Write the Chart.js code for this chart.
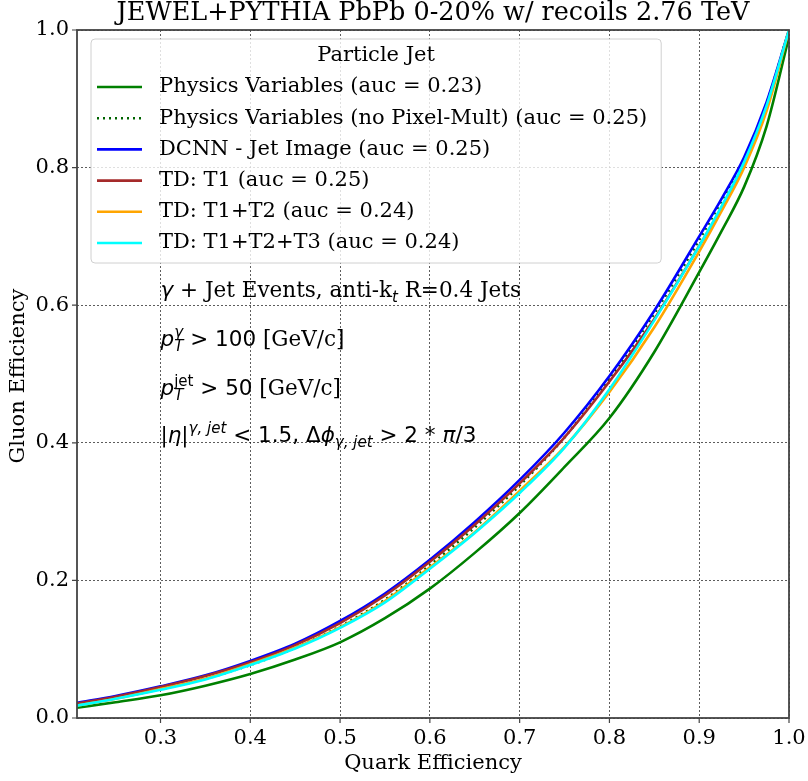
<!DOCTYPE html>
<html>
<head>
<meta charset="utf-8">
<script src="https://cdn.jsdelivr.net/npm/chart.js@4"></script>
<style>
  body { margin: 0; background: #fff; }
  #wrap { width: 808px; height: 781px; }
</style>
</head>
<body>
<div id="wrap"><canvas id="chart" width="808" height="781"></canvas></div>
<script>
// quark efficiency sample points shared by all curves
const quarkEff = [0.207, 0.25, 0.3, 0.35, 0.4, 0.45, 0.5, 0.55, 0.6, 0.65, 0.7, 0.75, 0.8, 0.85, 0.9, 0.925, 0.95, 0.975, 1.0];

// gluon efficiency per model
const physVars    = [0.015, 0.023, 0.033, 0.047, 0.064, 0.085, 0.110, 0.145, 0.188, 0.240, 0.298, 0.365, 0.436, 0.532, 0.648, 0.708, 0.772, 0.860, 0.99];
const physNoPixel = [0.019, 0.029, 0.042, 0.057, 0.077, 0.102, 0.133, 0.172, 0.222, 0.277, 0.338, 0.408, 0.493, 0.588, 0.695, 0.752, 0.812, 0.893, 1.0];
const dcnn        = [0.022, 0.032, 0.046, 0.062, 0.083, 0.108, 0.141, 0.181, 0.230, 0.285, 0.346, 0.415, 0.497, 0.592, 0.700, 0.755, 0.815, 0.895, 1.0];
const tdT1        = [0.021, 0.031, 0.045, 0.061, 0.081, 0.106, 0.138, 0.178, 0.227, 0.281, 0.341, 0.408, 0.489, 0.580, 0.686, 0.742, 0.805, 0.888, 1.0];
const tdT12       = [0.018, 0.028, 0.042, 0.057, 0.078, 0.102, 0.132, 0.170, 0.219, 0.270, 0.330, 0.394, 0.474, 0.568, 0.678, 0.737, 0.800, 0.882, 1.0];
const tdT123      = [0.018, 0.028, 0.041, 0.056, 0.077, 0.101, 0.131, 0.168, 0.217, 0.269, 0.327, 0.393, 0.478, 0.578, 0.686, 0.744, 0.808, 0.890, 1.0];

const labels = [
  'Physics Variables (auc = 0.23)',
  'Physics Variables (no Pixel-Mult) (auc = 0.25)',
  'DCNN - Jet Image (auc = 0.25)',
  'TD: T1 (auc = 0.25)',
  'TD: T1+T2 (auc = 0.24)',
  'TD: T1+T2+T3 (auc = 0.24)'
];
const colors = ['#008000', '#006400', '#0000ff', '#a52a2a', '#ffa500', '#00ffff'];
const dashes = [[], [2, 4], [], [], [], []];

const xTicks = [0.3, 0.4, 0.5, 0.6, 0.7, 0.8, 0.9, 1.0];
const yTicks = [0.0, 0.2, 0.4, 0.6, 0.8, 1.0];

const title = 'JEWEL+PYTHIA PbPb 0-20% w/ recoils 2.76 TeV';
const xTitle = 'Quark Efficiency';
const yTitle = 'Gluon Efficiency';
const legendTitle = 'Particle Jet';

// annotation lines: r = serif roman, s = sans, is = italic sans
const notes = [
  [{t: 'γ', f: 'is'}, {t: ' + ', f: 's'}, {t: 'Jet Events, anti-k', f: 'r'}, {t: 't', f: 'is', pos: 'sub'}, {t: ' R=0.4 Jets', f: 'r'}],
  [{t: 'p', f: 'is'}, {t: 'γ', f: 'is', pos: 'sup'}, {t: 'T', f: 'is', pos: 'sub', stack: true}, {t: ' > 100 ', f: 's'}, {t: '[GeV/c]', f: 'r'}],
  [{t: 'p', f: 'is'}, {t: 'jet', f: 's', pos: 'sup'}, {t: 'T', f: 'is', pos: 'sub', stack: true}, {t: ' > 50 ', f: 's'}, {t: '[GeV/c]', f: 'r'}],
  [{t: '|', f: 's'}, {t: 'η', f: 'is'}, {t: '|', f: 's'}, {t: 'γ, jet', f: 'is', pos: 'sup'}, {t: ' < 1.5, Δ', f: 's'}, {t: 'ϕ', f: 'is'}, {t: 'γ, jet', f: 'is', pos: 'sub'}, {t: ' > 2 * ', f: 's'}, {t: 'π', f: 'is'}, {t: '/3', f: 's'}]
];

const series = [physVars, physNoPixel, dcnn, tdT1, tdT12, tdT123];
const datasets = series.map((ys, i) => ({
  label: labels[i],
  data: quarkEff.map((x, j) => ({x: x, y: ys[j]})),
  borderColor: colors[i],
  backgroundColor: colors[i],
  borderWidth: 2.6,
  borderDash: dashes[i],
  pointRadius: 0,
  cubicInterpolationMode: 'monotone',
  fill: false,
  order: series.length - i
}));

const SERIF = '"DejaVu Serif"';
const SANS = '"DejaVu Sans"';

function drawRich(ctx, segs, x, y, size) {
  let cx = x, supStart = x, supEnd = x;
  segs.forEach(s => {
    const sz = s.pos ? size * 0.7 : size;
    const fam = s.f === 'r' ? SERIF : SANS;
    ctx.font = (s.f === 'is' ? 'italic ' : '') + sz + 'px ' + fam;
    const dy = s.pos === 'sup' ? -size * 0.42 : s.pos === 'sub' ? size * 0.25 : 0;
    if (s.stack) cx = supStart;
    if (s.pos === 'sup') supStart = cx;
    ctx.fillText(s.t, cx, y + dy);
    const w = ctx.measureText(s.t).width;
    if (s.pos === 'sup') supEnd = cx + w;
    cx += w;
    if (s.stack) cx = Math.max(cx, supEnd);
  });
}

const decor = {
  id: 'decor',
  afterDraw(chart) {
    const ctx = chart.ctx;
    const a = chart.chartArea;
    const xs = chart.scales.x, ys = chart.scales.y;
    ctx.save();

    // frame + outward ticks
    ctx.strokeStyle = '#444';
    ctx.lineWidth = 1.8;
    ctx.strokeRect(a.left, a.top, a.right - a.left, a.bottom - a.top);
    ctx.lineWidth = 1.2;
    ctx.beginPath();
    xTicks.forEach(v => { const px = xs.getPixelForValue(v); ctx.moveTo(px, a.bottom); ctx.lineTo(px, a.bottom + 5); });
    yTicks.forEach(v => { const py = ys.getPixelForValue(v); ctx.moveTo(a.left, py); ctx.lineTo(a.left - 5, py); });
    ctx.stroke();

    ctx.fillStyle = '#000';
    ctx.textBaseline = 'middle';
    ctx.textAlign = 'center';
    ctx.font = '25.5px ' + SERIF;
    ctx.fillText(title, (a.left + a.right) / 2, 13);
    ctx.font = '21px ' + SERIF;
    ctx.fillText(xTitle, (a.left + a.right) / 2, 764);
    ctx.save();
    ctx.translate(19, (a.top + a.bottom) / 2 + 2);
    ctx.rotate(-Math.PI / 2);
    ctx.fillText(yTitle, 0, 0);
    ctx.restore();

    // legend
    const lx = a.left + 14, ly = a.top + 9, rowH = 31.2;
    ctx.font = '21px ' + SERIF;
    let maxW = 0;
    labels.forEach(l => { maxW = Math.max(maxW, ctx.measureText(l).width); });
    const lw = 68 + maxW + 14, lh = 224;
    ctx.fillStyle = 'rgba(255,255,255,0.8)';
    ctx.strokeStyle = '#d0d0d0';
    ctx.lineWidth = 1;
    ctx.beginPath();
    ctx.roundRect(lx, ly, lw, lh, 4);
    ctx.fill();
    ctx.stroke();
    ctx.fillStyle = '#000';
    ctx.fillText(legendTitle, lx + lw / 2, ly + 17);
    ctx.textAlign = 'left';
    chart.data.datasets.forEach((ds, i) => {
      const cy = ly + 48 + i * rowH;
      ctx.strokeStyle = ds.borderColor;
      ctx.lineWidth = 2.6;
      ctx.setLineDash(ds.borderDash);
      ctx.beginPath();
      ctx.moveTo(lx + 6, cy);
      ctx.lineTo(lx + 51, cy);
      ctx.stroke();
      ctx.setLineDash([]);
      ctx.fillStyle = '#000';
      ctx.fillText(ds.label, lx + 68, cy);
    });

    // annotation block
    ctx.textBaseline = 'alphabetic';
    const nx = xs.getPixelForValue(0.3);
    [297, 346, 395, 442].forEach((ny, i) => drawRich(ctx, notes[i], nx, ny, 21.5));

    ctx.restore();
  }
};

new Chart(document.getElementById('chart'), {
  type: 'line',
  data: { datasets: datasets },
  options: {
    responsive: false,
    animation: false,
    layout: { padding: { top: 30, right: 19, left: 0, bottom: 0 } },
    plugins: { legend: { display: false }, tooltip: { enabled: false }, title: { display: false } },
    scales: {
      x: {
        type: 'linear',
        min: 0.207,
        max: 1.0,
        afterBuildTicks: s => { s.ticks = xTicks.map(v => ({value: v})); },
        afterFit: s => { s.height = 63; s.paddingLeft = 0; s.paddingRight = 0; },
        grid: { color: 'rgba(0,0,0,0.8)', lineWidth: 0.8, drawTicks: false },
        border: { display: false, dash: [2, 2] },
        ticks: { color: '#000', padding: 8, font: { family: 'DejaVu Serif', size: 21 }, callback: v => v.toFixed(1) }
      },
      y: {
        type: 'linear',
        min: 0,
        max: 1.0,
        afterBuildTicks: s => { s.ticks = yTicks.map(v => ({value: v})); },
        afterFit: s => { s.width = 77; s.paddingTop = 0; s.paddingBottom = 0; },
        grid: { color: 'rgba(0,0,0,0.8)', lineWidth: 0.8, drawTicks: false },
        border: { display: false, dash: [2, 2] },
        ticks: { color: '#000', padding: 8, font: { family: 'DejaVu Serif', size: 21 }, callback: v => v.toFixed(1) }
      }
    }
  },
  plugins: [decor]
});
</script>
</body>
</html>
